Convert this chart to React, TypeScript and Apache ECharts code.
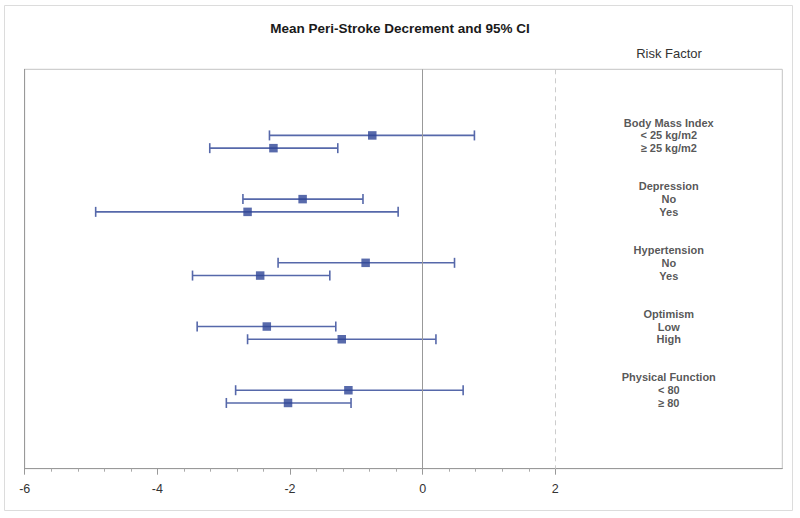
import React, { useEffect, useRef } from "react";
import * as echarts from "echarts";

// ---- data ----
const groups = ["Body Mass Index", "Depression", "Hypertension", "Optimism", "Physical Function"];
const levels = [
  ["< 25 kg/m2", "≥ 25 kg/m2"],
  ["No", "Yes"],
  ["No", "Yes"],
  ["Low", "High"],
  ["< 80", "≥ 80"],
];
const means = [
  [-0.76, -2.25],
  [-1.81, -2.64],
  [-0.86, -2.45],
  [-2.35, -1.22],
  [-1.12, -2.03],
];
const lowers = [
  [-2.31, -3.21],
  [-2.71, -4.93],
  [-2.18, -3.47],
  [-3.40, -2.64],
  [-2.82, -2.96],
];
const uppers = [
  [0.78, -1.28],
  [-0.90, -0.37],
  [0.48, -1.40],
  [-1.31, 0.20],
  [0.61, -1.08],
];
const refLines = [0, 2];
const xTicksMin = -6;
const xTicksMax = 2;
const xTickStep = 2;

const TITLE = "Mean Peri-Stroke Decrement and 95% CI";
const COLUMN_HEADER = "Risk Factor";

export default function App() {
  const ref = useRef<HTMLDivElement>(null);

  useEffect(() => {
    if (!ref.current) return;
    const chart = echarts.init(ref.current, undefined, { renderer: "svg" });

    const ROWS_PER_GROUP = 5;
    const LABEL_X = 3.71;
    const barData: any[] = [];
    const pointData: any[] = [];
    const labelData: any[] = [];
    groups.forEach((g, gi) => {
      const base = gi * ROWS_PER_GROUP;
      labelData.push([LABEL_X, base, g]);
      levels[gi].forEach((lv, li) => {
        const y = base + 1 + li;
        labelData.push([LABEL_X, y, lv]);
        barData.push([lowers[gi][li], uppers[gi][li], y]);
        pointData.push([means[gi][li], y]);
      });
    });

    const lineColor = "#5668aa";
    const markColor = "#2e4596";
    const frameLeft = 24.7;
    const frameRight = 800 - 782.3;
    const frameTop = 69.3;
    const frameBottom = 518 - 468.7;
    const xMax = -6 + (782.3 - 24.7) / 66.33;
    const gridTwoWidth = (xTicksMax - xTicksMin) * 66.33;

    chart.setOption({
      animation: false,
      backgroundColor: "#ffffff",
      title: {
        text: TITLE,
        left: "center",
        top: 16,
        textStyle: { fontFamily: "Arial, Liberation Sans, sans-serif", fontSize: 13.5, fontWeight: "bold", color: "#1a1a1a" },
      },
      graphic: [
        {
          type: "rect",
          shape: { x: 4.5, y: 5.5, width: 788, height: 505 },
          style: { fill: "none", stroke: "#dcdcdc", lineWidth: 1 },
          silent: true,
          z: -1,
        },
        {
          type: "text",
          x: 669,
          y: 53,
          style: {
            text: COLUMN_HEADER,
            textAlign: "center",
            textVerticalAlign: "middle",
            fontFamily: "Arial, Liberation Sans, sans-serif",
            fontSize: 13,
            fill: "#333333",
          },
        },
      ],
      grid: [
        {
          left: frameLeft,
          right: frameRight,
          top: frameTop,
          bottom: frameBottom,
          show: true,
          borderColor: "#c4c4c4",
          borderWidth: 1,
        },
        {
          left: frameLeft,
          width: gridTwoWidth,
          top: frameTop,
          bottom: frameBottom,
        },
      ],
      xAxis: [
        {
          type: "value",
          gridIndex: 0,
          min: -6,
          max: xMax,
          axisLine: { show: true, onZero: false, lineStyle: { color: "#999999", width: 1 } },
          axisTick: { show: false },
          axisLabel: { show: false },
          splitLine: { show: false },
        },
        {
          type: "value",
          gridIndex: 1,
          min: xTicksMin,
          max: xTicksMax,
          interval: xTickStep,
          axisLine: { show: false, onZero: false },
          axisTick: { show: true, length: 6, lineStyle: { color: "#999999" } },
          minorTick: { show: true, splitNumber: 5, length: 3, lineStyle: { color: "#aaaaaa" } },
          axisLabel: {
            color: "#333333",
            fontSize: 12.5,
            margin: 14,
            fontFamily: "Arial, Liberation Sans, sans-serif",
          },
          splitLine: { show: false },
        },
      ],
      yAxis: [
        {
          type: "value",
          gridIndex: 0,
          inverse: true,
          min: -4.19,
          max: 27.16,
          axisLine: { show: true, onZero: false, lineStyle: { color: "#999999", width: 1 } },
          axisTick: { show: false },
          axisLabel: { show: false },
          splitLine: { show: false },
        },
        {
          type: "value",
          gridIndex: 1,
          show: false,
          min: 0,
          max: 1,
        },
      ],
      series: [
        {
          type: "custom",
          xAxisIndex: 0,
          yAxisIndex: 0,
          data: barData,
          encode: { x: [0, 1], y: 2 },
          renderItem: (params: any, api: any) => {
            const p1 = api.coord([api.value(0), api.value(2)]);
            const p2 = api.coord([api.value(1), api.value(2)]);
            const h = 5;
            const style = { stroke: lineColor, lineWidth: 1.6 };
            return {
              type: "group",
              children: [
                { type: "line", shape: { x1: p1[0], y1: p1[1], x2: p2[0], y2: p2[1] }, style },
                { type: "line", shape: { x1: p1[0], y1: p1[1] - h, x2: p1[0], y2: p1[1] + h }, style },
                { type: "line", shape: { x1: p2[0], y1: p2[1] - h, x2: p2[0], y2: p2[1] + h }, style },
              ],
            };
          },
          markLine: {
            silent: true,
            symbol: "none",
            label: { show: false },
            data: [
              { xAxis: refLines[0], lineStyle: { color: "#999999", width: 1, type: "solid" } },
              { xAxis: refLines[1], lineStyle: { color: "#cccccc", width: 1, type: [5, 4] } },
            ],
          },
          z: 2,
        },
        {
          type: "scatter",
          xAxisIndex: 0,
          yAxisIndex: 0,
          data: pointData,
          symbol: "rect",
          symbolSize: 8.5,
          itemStyle: { color: markColor },
          z: 3,
        },
        {
          type: "scatter",
          xAxisIndex: 0,
          yAxisIndex: 0,
          data: labelData,
          symbolSize: 1,
          itemStyle: { color: "rgba(0,0,0,0)" },
          silent: true,
          label: {
            show: true,
            position: "inside",
            formatter: (p: any) => p.data[2],
            color: "#2b2b2b",
            fontFamily: "Arial, Liberation Sans, sans-serif",
            fontSize: 11,
            fontWeight: "bold",
          },
        },
      ],
    });

    return () => chart.dispose();
  }, []);

  return (
    <div
      ref={ref}
      style={{ position: "fixed", left: 0, top: 0, width: 800, height: 518 }}
    />
  );
}
